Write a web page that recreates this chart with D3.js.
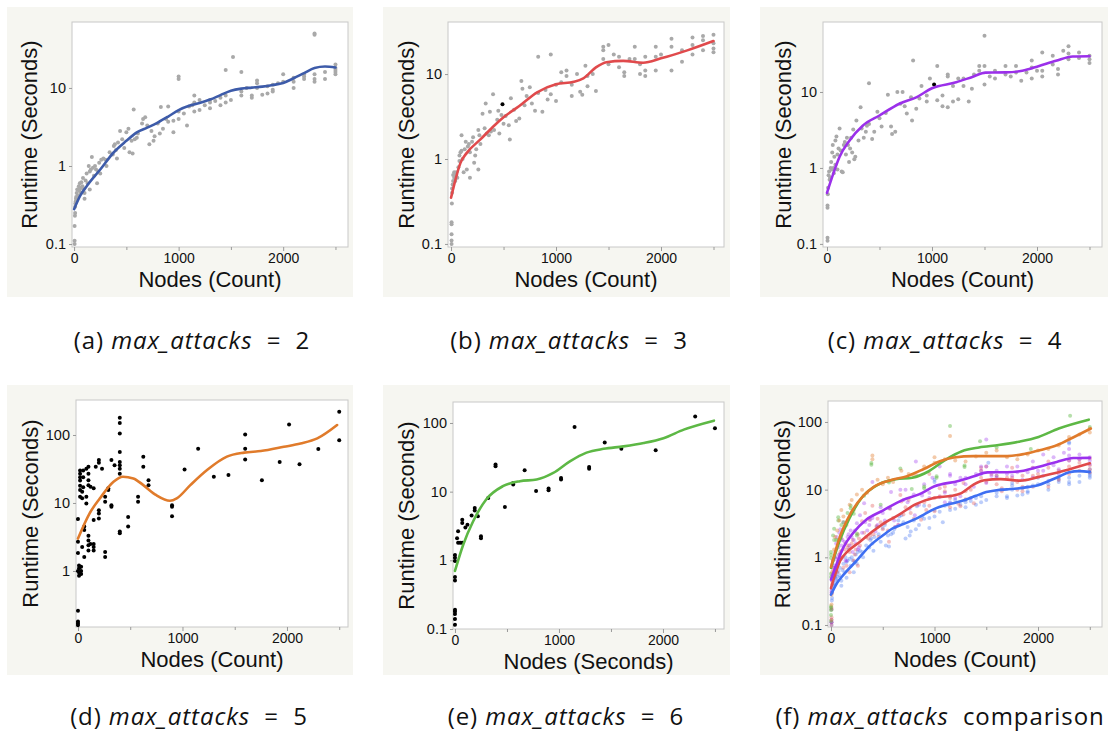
<!DOCTYPE html>
<html>
<head>
<meta charset="utf-8">
<script src="https://cdn.jsdelivr.net/npm/d3@7"></script>
<style>
body { margin: 0; background: #fff; }
text { font-family: "Liberation Sans", Arial, sans-serif; }
</style>
</head>
<body>
<div id="chart"></div>
<script>
// raw runtimes: [nodes, seconds]
var ptsA = [[5,0.1],[5,0.11],[5,0.17],[8,0.23],[10,0.25],[10,0.3],[12,0.33],[15,0.35],[18,0.38],[20,0.4],[25,0.45],[30,0.5],[35,0.42],[40,0.5],[45,0.55],[50,0.48],[55,0.6],[60,0.52],[65,0.45],[70,0.62],[80,0.55],[85,0.7],[90,0.5],[100,0.45],[100,0.38],[110,0.65],[120,0.8],[130,0.6],[140,1.0],[150,0.85],[150,0.5],[160,0.9],[170,1.3],[180,0.95],[190,0.75],[200,1.0],[210,0.9],[220,0.6],[230,0.85],[240,1.1],[250,0.8],[260,1.2],[280,1.25],[300,1.2],[310,1.0],[340,1.5],[370,1.4],[380,1.8],[390,1.9],[400,1.6],[410,1.25],[420,2.0],[440,2.8],[460,2.2],[480,1.7],[500,2.7],[520,3.0],[530,1.5],[550,2.1],[560,1.45],[570,5.3],[580,2.2],[600,2.3],[610,2.6],[650,3.5],[660,4.0],[680,4.2],[700,3.3],[720,1.9],[740,2.8],[760,2.1],[770,2.4],[800,3.5],[820,2.6],[830,5.7],[850,3.0],[880,4.0],[900,5.8],[900,3.7],[950,2.7],[950,3.8],[1000,13],[1000,14],[1000,5.0],[1000,4.0],[1050,4.7],[1080,3.3],[1100,5.8],[1130,6.0],[1150,8],[1150,6.5],[1150,5],[1200,7],[1200,5.2],[1250,6.0],[1300,6.5],[1300,7.0],[1300,5.5],[1350,6.8],[1400,7.5],[1400,6.0],[1450,17],[1450,8.0],[1450,6.5],[1500,7.0],[1520,25],[1600,16],[1600,9.0],[1600,8],[1650,10],[1700,7.5],[1700,8.0],[1750,12.5],[1750,11.5],[1750,10],[1800,8.2],[1850,10.5],[1850,8.5],[1900,11],[1900,9.5],[1900,9.0],[1950,11.5],[2000,15],[2000,12],[2100,13.5],[2100,12],[2100,10],[2200,14],[2200,13],[2200,15],[2300,50],[2300,48],[2300,15],[2300,13],[2300,12],[2400,16],[2400,13],[2500,20],[2500,18],[2500,17],[2500,16],[2500,15]];
var ptsB = [[5,0.1],[5,0.11],[5,0.13],[5,0.17],[5,0.18],[8,0.3],[10,0.4],[10,0.45],[15,0.5],[20,0.55],[20,0.65],[30,0.6],[30,0.7],[40,0.55],[50,0.65],[50,0.7],[60,0.6],[70,0.8],[80,1.1],[80,0.95],[90,1.2],[100,1.25],[100,1.9],[110,1.0],[120,0.7],[130,1.3],[140,1.6],[150,0.75],[160,1.4],[170,1.5],[180,0.6],[180,1.2],[200,1.6],[210,1.8],[220,0.9],[230,1.1],[240,1.3],[260,0.75],[260,2.2],[270,1.9],[280,1.5],[300,3.4],[320,2.3],[330,4.5],[340,2.0],[360,1.9],[370,3.6],[380,2.1],[400,5.8],[410,2.2],[440,2.9],[450,3.7],[460,2.0],[480,3.3],[500,2.6],[520,3.2],[550,2.5],[560,1.7],[570,5.2],[600,3.8],[620,2.8],[650,3.0],[670,8.3],[680,6.7],[700,4.3],[720,5.5],[750,7.0],[770,4.5],[800,3.7],[830,16],[830,6.0],[870,3.6],[900,6.5],[920,5.0],[950,17],[950,5.8],[1000,4.8],[1000,7.5],[1050,10.5],[1050,8.0],[1100,11],[1100,9.5],[1150,5.5],[1150,7.5],[1200,10],[1230,6.2],[1250,5.7],[1280,12.5],[1300,9.5],[1300,7.2],[1350,10],[1380,6.3],[1450,21],[1450,19],[1450,15],[1500,22],[1500,13],[1550,17],[1600,16],[1600,12],[1650,9.5],[1650,10.5],[1700,15],[1750,21],[1750,15],[1800,13],[1800,10],[1850,16],[1850,11],[1850,9.5],[1950,21],[1950,16],[1950,11],[2000,17],[2100,26],[2100,21],[2100,11],[2200,19],[2200,14],[2300,27],[2300,22],[2300,17],[2400,28],[2400,25],[2400,19],[2500,29],[2500,23],[2500,20],[2500,18]];
var ptsC = [[5,0.11],[5,0.12],[5,0.3],[5,0.32],[8,0.45],[10,0.55],[15,0.8],[20,0.9],[25,0.7],[30,0.75],[35,1.0],[40,1.2],[45,0.95],[50,1.6],[55,2.0],[60,1.0],[65,0.85],[70,1.4],[80,2.3],[80,1.1],[90,2.6],[100,0.95],[100,1.5],[110,1.8],[120,3.3],[130,1.7],[140,0.9],[150,0.88],[160,2.0],[170,2.2],[180,1.5],[190,2.5],[200,2.0],[210,1.2],[220,1.8],[230,2.5],[240,1.6],[250,3.2],[260,1.3],[270,1.4],[280,4.2],[300,2.3],[320,6.3],[330,3.3],[350,2.5],[370,3.0],[380,3.6],[400,13],[400,3.8],[430,2.4],[450,3.0],[480,5.5],[500,4.5],[520,3.5],[560,5.3],[580,9.2],[610,3.5],[620,2.8],[650,3.0],[670,10],[700,7.0],[720,10],[740,6.5],[760,5.2],[800,8.5],[810,4.2],[820,26],[850,6.0],[880,8.2],[900,12],[950,9.0],[950,7.5],[980,15],[1050,22],[1050,7.8],[1100,9.0],[1100,6.5],[1150,17],[1150,16],[1150,6.3],[1200,12],[1200,7.5],[1250,15],[1250,8],[1300,12],[1300,15],[1350,7.5],[1380,11],[1400,17],[1450,22],[1450,19],[1500,55],[1500,22],[1500,12.5],[1550,16],[1600,19],[1600,15],[1700,22],[1700,17],[1750,16],[1800,22],[1800,18],[1850,14],[1900,18],[1950,26],[1950,21],[1950,15],[2000,19],[2050,33],[2050,19],[2050,16],[2150,30],[2150,23],[2200,20],[2200,17],[2250,35],[2300,40],[2300,32],[2300,27],[2400,33],[2400,28],[2500,30],[2500,27],[2500,24]];
var ptsD = [[0,0.26],[0,0.18],[0,0.17],[0,0.16],[0,1.0],[0,1.84],[0,2.7],[0,5.8],[10,1.2],[10,1.1],[10,0.95],[10,0.85],[20,30],[20,27],[20,24],[20,21.5],[20,18],[20,15.5],[20,12.3],[30,1.0],[30,1.15],[30,0.9],[40,14.6],[40,11.7],[40,2.25],[50,30],[50,24],[50,17],[60,4.5],[60,4.0],[60,1.6],[80,32],[80,12.3],[80,9.8],[100,34],[100,27],[100,21.6],[100,18.3],[100,3.3],[100,2.8],[100,2.4],[100,2.0],[120,17.3],[120,2.5],[150,16.4],[150,2.5],[150,2.25],[150,2.0],[150,5.6],[170,34],[200,43],[200,39],[200,7.8],[200,7.0],[200,5.9],[230,32],[260,12.3],[260,10.4],[260,1.9],[260,1.6],[290,16.4],[290,15.5],[320,43],[320,9.3],[320,8.8],[350,36],[400,180],[400,150],[400,105],[400,56],[400,40],[400,36],[400,32],[400,27],[400,3.8],[400,3.6],[480,6.2],[480,4.5],[575,12.3],[575,10.4],[625,48],[625,34],[675,21.6],[675,18.3],[900,9.3],[900,8.8],[900,6.4],[1020,31],[1150,63],[1300,24.3],[1440,25.7],[1600,102],[1600,63],[1600,43.6],[1760,21.6],[1930,40],[2020,143],[2120,37],[2300,62],[2500,220],[2500,84]];
var ptsE = [[0,0.115],[0,0.14],[0,0.165],[0,0.18],[0,0.19],[0,0.51],[0,0.57],[0,0.98],[0,1.09],[0,1.2],[20,2.1],[30,2.65],[30,1.8],[50,1.8],[70,3.9],[70,3.5],[70,1.8],[100,3.0],[120,3.3],[160,4.5],[190,5.8],[190,5.3],[220,4.4],[250,2.25],[250,2.1],[320,8.1],[390,24.8],[390,23.4],[480,6.0],[560,13.4],[560,12.7],[670,20.5],[780,10.2],[900,11.1],[900,10.5],[1020,15.8],[1020,15],[1150,87],[1290,22.8],[1290,21.6],[1440,52],[1600,42],[1930,40],[2310,124],[2500,84]];
// max_attacks = 5 runs as shown in the comparison panel
var ptsF5 = [[5,0.12],[5,0.2],[5,0.28],[10,0.6],[20,0.9],[30,1.3],[40,2.0],[60,2.5],[80,3.5],[100,5.0],[120,4.0],[150,3.0],[180,6.0],[200,7.0],[220,5.0],[250,8.5],[300,10],[350,9],[400,32],[400,28],[450,14],[500,12],[550,15],[600,13],[680,19],[750,17],[800,16],[900,22],[1000,30],[1000,25],[1100,28],[1150,62],[1200,27],[1300,26],[1400,31],[1500,35],[1600,38],[1700,30],[1800,28],[1900,33],[2000,38],[2100,40],[2200,45],[2300,60],[2300,55],[2400,65],[2500,80],[2500,70]];
var hiB = [[490,4.4]];
var hiC = [[1020,12.5]];

// smoother curves
var lineA = [[0,0.28],[60,0.42],[120,0.55],[250,0.9],[380,1.5],[500,2.1],[600,2.7],[700,3.1],[800,3.6],[900,4.3],[1000,5.2],[1100,5.9],[1200,6.4],[1300,7.1],[1400,8.1],[1500,9.2],[1600,9.8],[1700,10.1],[1800,10.4],[1900,10.9],[2000,11.6],[2100,13.3],[2200,15.5],[2300,18],[2400,18.8],[2500,18.3]];
var lineB = [[0,0.35],[30,0.5],[90,0.9],[150,1.18],[280,1.7],[400,2.4],[500,3.1],[650,4.2],[820,6.1],[1000,7.6],[1170,8.1],[1260,8.9],[1380,12],[1480,13.8],[1640,14.3],[1830,13.6],[2000,15.3],[2250,19],[2500,24.5]];
var lineC = [[0,0.47],[60,0.84],[120,1.4],[215,2.3],[340,3.6],[500,4.9],[690,7],[850,8.5],[1000,11.2],[1230,13.4],[1390,15.9],[1510,18],[1700,18.1],[1860,19],[2020,22],[2180,25.7],[2340,29.3],[2500,29.5]];
var lineD = [[0,3.0],[110,7],[210,11.7],[340,20.5],[430,24.3],[530,23],[625,18.3],[750,13],[880,10.8],[945,11.7],[1075,18.3],[1235,30.5],[1425,48],[1590,55],[1750,58],[1970,67],[2130,75],[2290,89],[2480,140]];
var lineE = [[0,0.7],[80,1.7],[175,3.7],[300,7.7],[460,12],[625,14.2],[785,15],[945,18.7],[1105,27.6],[1265,37],[1430,42],[1620,45.6],[1815,51],[2005,60],[2200,80],[2490,108]];
var lineF5 = [[0,0.72],[90,2.1],[187,4.4],[316,8.2],[413,11],[574,13.8],[735,15.8],[897,20.2],[1058,26.5],[1187,29.9],[1380,31.3],[1703,31.3],[1865,33.6],[2026,38.5],[2187,45.6],[2348,60],[2510,80]];

var xTicks = [0, 500, 1000, 1500, 2000, 2500];

const width = 1108, height = 733;
const svg = d3.select("#chart").append("svg")
  .attr("width", width)
  .attr("height", height);

const grey = "#a9a9a9";
const panels = [
  { bg: [7, 7, 353, 297], f: [72, 22, 348, 247], xd: [-20, 2620], yd: [0.0916, 70], yt: [0.1, 1, 10], ytx: 29, xlab: "Nodes (Count)",
    series: [{ pts: ptsA, color: grey, line: lineA, lc: "#3d5ba9" }] },
  { bg: [383, 7, 730, 297], f: [448, 22, 724, 247], xd: [-29, 2600], yd: [0.092, 41], yt: [0.1, 1, 10], ytx: 406, xlab: "Nodes (Count)",
    series: [{ pts: ptsB, color: grey, line: lineB, lc: "#e04a4c" }, { pts: hiB, color: "#000" }] },
  { bg: [760, 7, 1108, 297], f: [823, 22, 1102, 247], xd: [-38, 2619], yd: [0.091, 83.4], yt: [0.1, 1, 10], ytx: 783, xlab: "Nodes (Count)",
    series: [{ pts: ptsC, color: grey, line: lineC, lc: "#9b30ea" }, { pts: hiC, color: "#000" }] },
  { bg: [7, 385, 353, 675], f: [76, 400, 348, 627], xd: [-19, 2584], yd: [0.15, 327], yt: [1, 10, 100], ytx: 30, xlab: "Nodes (Count)",
    series: [{ pts: ptsD, color: "#000", line: lineD, lc: "#e07b2b" }] },
  { bg: [383, 385, 730, 675], f: [453, 402, 724, 629], xd: [-19, 2587], yd: [0.1, 202], yt: [0.1, 1, 10, 100], ytx: 406, xlab: "Nodes (Seconds)",
    series: [{ pts: ptsE, color: "#000", line: lineE, lc: "#5db845" }] },
  { bg: [760, 385, 1108, 675], f: [828, 401, 1102, 627], xd: [-29, 2618], yd: [0.0934, 204], yt: [0.1, 1, 10, 100], ytx: 782, xlab: "Nodes (Count)",
    series: [
      { pts: ptsA, color: "#3e6ff2", op: 0.35, line: lineA, lc: "#3e6ff2" },
      { pts: ptsB, color: "#e04a4a", op: 0.35, line: lineB, lc: "#e04a4a" },
      { pts: ptsC, color: "#9a30ee", op: 0.35, line: lineC, lc: "#9a30ee" },
      { pts: ptsE, color: "#5db845", op: 0.45, line: lineE, lc: "#5db845" },
      { pts: ptsF5, color: "#e07b2b", op: 0.4, line: lineF5, lc: "#e07b2b" }
    ] }
];

panels.forEach(function(p, i) { drawPanel(p, i); });

function drawPanel(p, i) {
  svg.append("rect")
    .attr("x", p.bg[0]).attr("y", p.bg[1])
    .attr("width", p.bg[2] - p.bg[0]).attr("height", p.bg[3] - p.bg[1])
    .attr("fill", "#f6f6f1");

  const x = d3.scaleLinear().domain(p.xd).range([p.f[0], p.f[2]]);
  const y = d3.scaleLog().domain(p.yd).range([p.f[3], p.f[1]]);

  svg.append("rect")
    .attr("x", p.f[0]).attr("y", p.f[1])
    .attr("width", p.f[2] - p.f[0]).attr("height", p.f[3] - p.f[1])
    .attr("fill", "#fff")
    .attr("stroke", "#c8c8c8");

  svg.append("clipPath").attr("id", "clip" + i)
    .append("rect")
    .attr("x", p.f[0]).attr("y", p.f[1])
    .attr("width", p.f[2] - p.f[0]).attr("height", p.f[3] - p.f[1]);

  const g = svg.append("g").attr("clip-path", "url(#clip" + i + ")");

  // points first, lines on top
  p.series.forEach(function(s) {
    g.append("g").selectAll("circle")
      .data(s.pts)
      .enter()
      .append("circle")
      .attr("cx", d => x(d[0]))
      .attr("cy", d => y(d[1]))
      .attr("r", 2)
      .attr("fill", s.color)
      .attr("fill-opacity", s.op || 1);
  });

  const line = d3.line()
    .x(d => x(d[0]))
    .y(d => y(d[1]))
    .curve(d3.curveMonotoneX);

  p.series.forEach(function(s) {
    if (!s.line) return;
    g.append("path")
      .attr("d", line(s.line))
      .attr("fill", "none")
      .attr("stroke", s.lc)
      .attr("stroke-width", 2.6)
      .attr("stroke-linecap", "round");
  });

  // axes
  const xAxis = svg.append("g")
    .attr("transform", "translate(0," + p.f[3] + ")")
    .call(d3.axisBottom(x).tickValues(xTicks).tickSize(4).tickPadding(2)
      .tickFormat(d => d % 1000 === 0 ? d : ""));
  xAxis.select(".domain").remove();
  xAxis.selectAll(".tick line").attr("stroke", "#9a9a9a")
    .attr("y2", d => d % 1000 === 0 ? 4 : 3);
  xAxis.selectAll("text").style("font-size", "14px").attr("fill", "#111")
    .style("font-family", "'Liberation Sans', Arial, sans-serif");

  const yAxis = svg.append("g")
    .attr("transform", "translate(" + p.f[0] + ",0)")
    .call(d3.axisLeft(y).tickValues(p.yt).tickSize(3).tickPadding(3)
      .tickFormat(d3.format("~g")));
  yAxis.select(".domain").remove();
  yAxis.selectAll(".tick line").attr("stroke", "#9a9a9a");
  yAxis.selectAll("text").style("font-size", "14.5px").attr("fill", "#111")
    .style("font-family", "'Liberation Sans', Arial, sans-serif");

  svg.append("text")
    .attr("x", (p.f[0] + p.f[2]) / 2)
    .attr("y", p.f[3] + 40)
    .attr("text-anchor", "middle")
    .style("font-size", "22px")
    .attr("fill", "#111")
    .text(p.xlab);

  svg.append("text")
    .attr("transform", "translate(" + p.ytx + "," + (p.f[1] + p.f[3]) / 2 + ") rotate(-90)")
    .attr("dy", "0.35em")
    .attr("text-anchor", "middle")
    .style("font-size", "22px")
    .attr("fill", "#111")
    .text("Runtime (Seconds)");
}

// sub-figure captions
var capLetters = ["(a)", "(b)", "(c)", "(d)", "(e)", "(f)"];
var capTails = ["=  2", "=  3", "=  4", "=  5", "=  6", "comparison"];
var capPos = [[192, 349], [569, 349], [945, 349], [189, 725], [566, 725], [940, 725]];

capLetters.forEach(function(c, i) {
  const t = svg.append("text")
    .attr("x", capPos[i][0])
    .attr("y", capPos[i][1])
    .attr("text-anchor", "middle")
    .style("font-family", "'Open Sans', sans-serif")
    .style("font-size", "24px")
    .style("letter-spacing", "0.9px")
    .style("white-space", "pre")
    .attr("fill", "#111");
  t.append("tspan").text(c + " ");
  t.append("tspan").style("font-style", "italic").text("max_attacks");
  t.append("tspan").text("  " + capTails[i]);
});
</script>
</body>
</html>
